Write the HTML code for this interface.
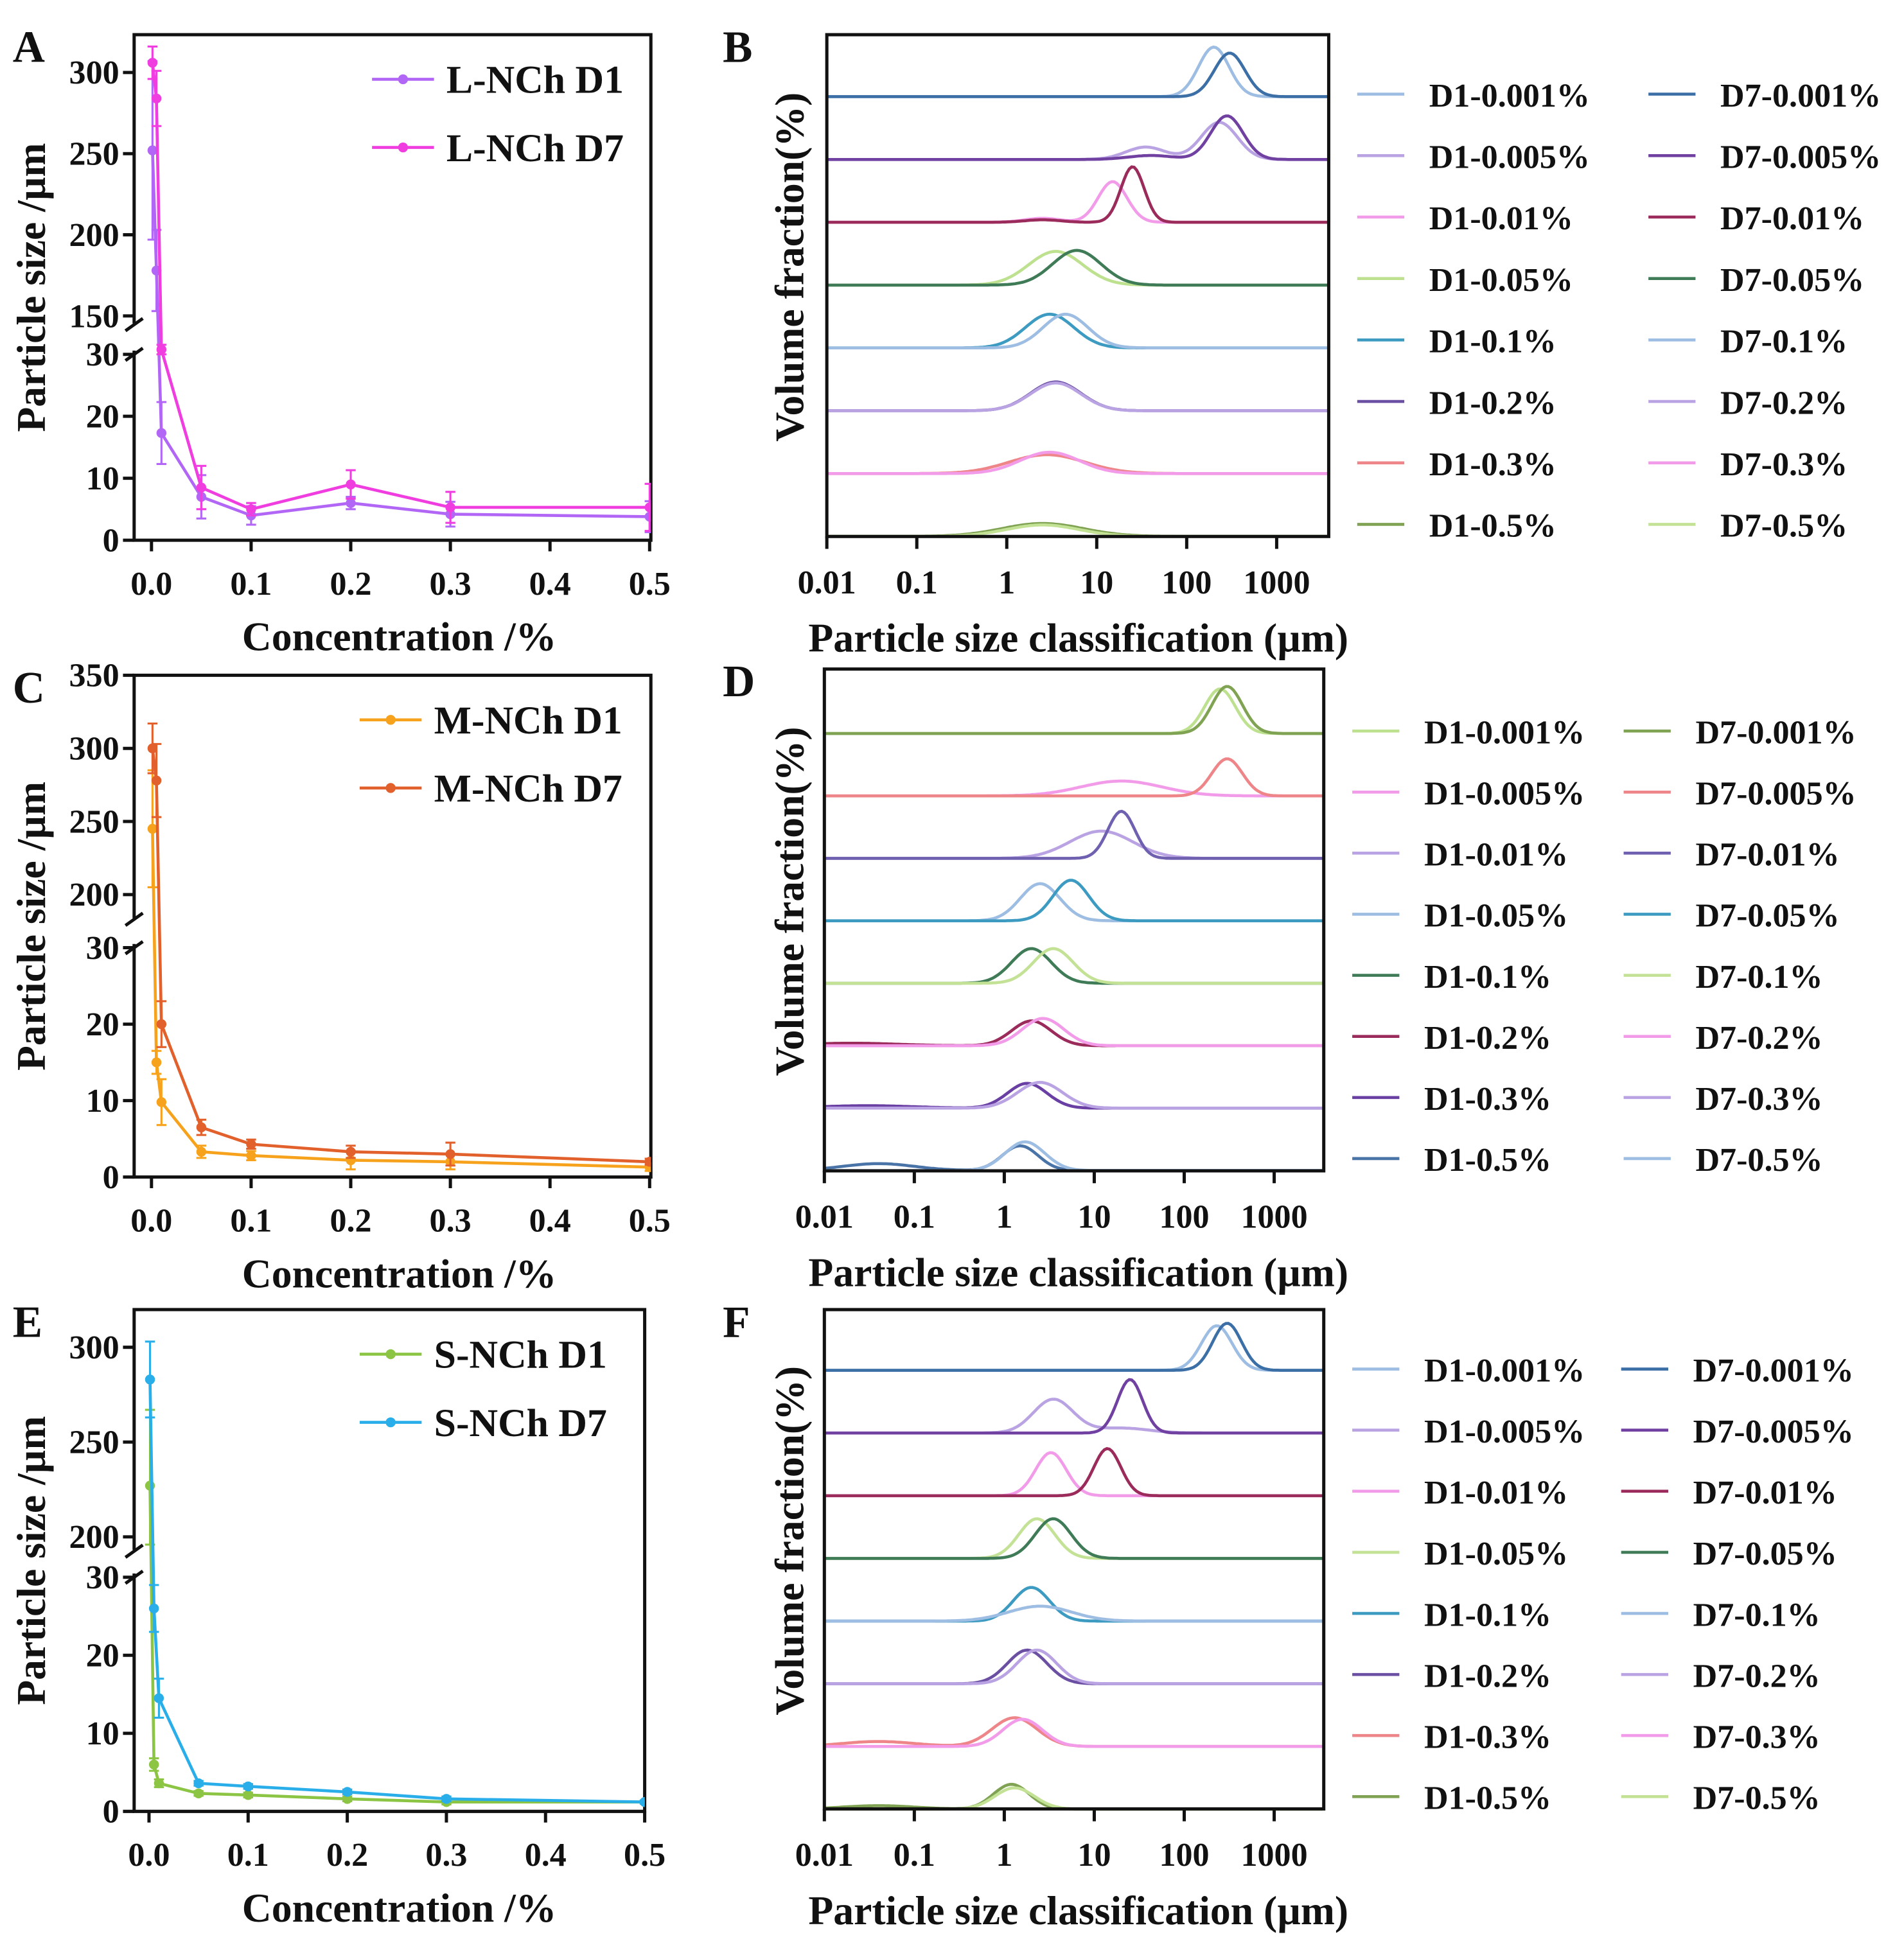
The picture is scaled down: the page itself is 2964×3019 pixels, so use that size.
<!DOCTYPE html>
<html><head><meta charset="utf-8">
<style>
html,body{margin:0;padding:0;background:#fff;}
svg{display:block;}
text{font-family:"Liberation Serif",serif;font-weight:bold;fill:#111;}
</style></head>
<body>
<svg id="fig" xmlns="http://www.w3.org/2000/svg" width="2964" height="3019" viewBox="0 0 1536 1565">
<rect x="0" y="0" width="1536" height="1565" fill="#fff"/>
</svg>
<script>
// ---------- Data: line panels (A, C, E) ----------
const concX = [0.001, 0.005, 0.01, 0.05, 0.1, 0.2, 0.3, 0.5];
const aD1 = [252, 178, 17.3, 7, 4, 6, 4.2, 3.8];
const aD7 = [306, 284, 45, 8.5, 5, 9, 5.3, 5.3];
const aD1err = [55, 25, 5, 3.5, 1.5, 1, 2, 2.5];
const aD7err = [10, 17, 15, 3.5, 1, 2.3, 2.5, 3.8];
const cD1 = [245, 15, 9.8, 3.3, 2.8, 2.2, 2.0, 1.3];
const cD7 = [300, 278, 20, 6.5, 4.3, 3.3, 3.0, 2.0];
const cD1err = [40, 1.5, 3, 0.8, 0.6, 1.2, 1, 0.5];
const cD7err = [17, 25, 3, 1, 0.6, 0.8, 1.5, 0.4];
const eD1 = [227, 6, 3.6, 2.3, 2.1, 1.6, 1.2, 1.2];
const eD7 = [283, 26, 14.5, 3.6, 3.2, 2.5, 1.6, 1.2];
const eD1err = [40, 0.8, 0.5, 0.3, 0.3, 0.3, 0.3, 0.2];
const eD7err = [20, 3, 2.5, 0.3, 0.3, 0.3, 0.3, 0.2];
const xTickLabels = ["0.0","0.1","0.2","0.3","0.4","0.5"];
const xTickValues = [0, 0.1, 0.2, 0.3, 0.4, 0.5];
const aUpperTicks = [150, 200, 250, 300];
const cUpperTicks = [200, 250, 300, 350];
const eUpperTicks = [200, 250, 300];
const lowerTicks = [0, 10, 20, 30];

// ---------- Data: distribution panels (B, D, F) ----------
const rowLabels = ["0.001%","0.005%","0.01%","0.05%","0.1%","0.2%","0.3%","0.5%"];
const sizeTicks = [0.01, 0.1, 1, 10, 100, 1000];
const sizeTickLabels = ["0.01","0.1","1","10","100","1000"];
// each curve: peaks as [center µm, height %, sigma (log10)]
const bD1 = [[[200,10,0.17]],[[35,2.5,0.22],[230,7.5,0.2]],[[15,8.2,0.16],[2.5,0.8,0.2]],[[3.5,6.8,0.3]],[[3,6.8,0.27]],[[3.5,5.8,0.28]],[[2.8,3.8,0.42]],[[2.5,2.6,0.45]]];
const bD7 = [[[300,8.8,0.17]],[[280,8.8,0.18],[40,0.8,0.25]],[[25,11.2,0.13],[2.5,0.5,0.2]],[[6,7,0.27]],[[4.5,6.8,0.25]],[[3.5,5.6,0.28]],[[3,4.3,0.33]],[[2.5,2.3,0.4]]];
const dD1 = [[[250,9,0.17]],[[20,3,0.45]],[[12,5.5,0.35]],[[2.5,7.5,0.22]],[[2,7,0.22]],[[2,5,0.22],[0.02,0.5,0.5]],[[1.8,5,0.22],[0.03,0.5,0.5]],[[1.5,5,0.2],[0.04,1.4,0.4]]];
const dD7 = [[[300,9.5,0.17]],[[300,7.5,0.17]],[[20,9.5,0.15]],[[5.5,8.2,0.2]],[[3.5,7,0.22]],[[2.7,5.5,0.23]],[[2.5,5.2,0.25]],[[1.7,5.8,0.22]]];
const fD1 = [[[230,9,0.17]],[[3.5,6.8,0.22],[20,1,0.3]],[[3.3,8.7,0.17]],[[2.3,8,0.2]],[[2,6.8,0.2]],[[1.8,6.8,0.22]],[[1.3,5.8,0.25],[0.04,1,0.4]],[[1.2,5,0.2],[0.04,0.7,0.4]]];
const fD7 = [[[300,9.5,0.16]],[[25,10.8,0.14]],[[14,9.5,0.15]],[[3.5,8,0.2]],[[2.5,3,0.35]],[[2.3,6.8,0.22]],[[1.6,5.5,0.22]],[[1.3,4.3,0.22]]];
const bD1Col = ["#9dbde3","#b9a3e3","#f29be9","#bde18f","#3d9bc2","#6b4fa3","#ee8589","#7fa353"];
const bD7Col = ["#3b6fa6","#7041a1","#9a2b5b","#3f7b57","#9dbde3","#b9a3e3","#f29be9","#c3e295"];
const dD1Col = ["#bde18f","#f29be9","#b9a3e3","#9dbde3","#3f7b57","#9a2b5b","#6a3fa3","#4a74a8"];
const dD7Col = ["#7fa353","#ee8589","#7060b0","#3d9bc2","#c3e295","#f29be9","#b9a3e3","#9dbde3"];
const fD1Col = ["#9dbde3","#b9a3e3","#f29be9","#c3e295","#3d9bc2","#6b4fa3","#ee8589","#7fa353"];
const fD7Col = ["#3b6fa6","#7041a1","#9a2b5b","#3f7b57","#9dbde3","#b9a3e3","#f29be9","#c3e295"];

const NS = "http://www.w3.org/2000/svg";
const svg = document.getElementById("fig");
function mk(tag, attrs, parent) {
  const e = document.createElementNS(NS, tag);
  for (const k in attrs) e.setAttribute(k, attrs[k]);
  (parent || svg).appendChild(e);
  return e;
}
function txt(s, x, y, size, anchor, parent, rot) {
  const t = mk("text", {x: x, y: y, "font-size": size, "text-anchor": anchor || "start"}, parent);
  if (rot) t.setAttribute("transform", "rotate(-90 " + x + " " + y + ")");
  t.textContent = s;
  return t;
}

// ---------- line panel ----------
function linePanel(p) {
  const g = mk("g", {});
  
  
  const X = v => p.x0 + (v / 0.5) * (p.x1 - p.x0);
  const Y = v => {
    if (v >= p.uMin) return p.uBot - (v - p.uMin) * p.uScale;
    if (v <= 30) return p.lBot - v * p.lScale;
    const yl = p.lBot - 30 * p.lScale, yu = p.uBot;
    return yl + (v - 30) / (p.uMin - 30) * (yu - yl);
  };
  const yTopLower = p.lBot - 30 * p.lScale - 3;
  const ax = mk("path", {d: `M${p.left},${p.uBot+6} L${p.left},${p.top} L${p.right},${p.top} L${p.right},${p.lBot} L${p.left},${p.lBot} L${p.left},${yTopLower}`, fill: "none", stroke: "#111", "stroke-width": 2.6}, g);
  
  
  mk("line", {x1: p.left-7, y1: p.uBot+12, x2: p.left+7, y2: p.uBot+2, stroke:"#111","stroke-width":2.6}, g);
  mk("line", {x1: p.left-7, y1: yTopLower+8, x2: p.left+7, y2: yTopLower-2, stroke:"#111","stroke-width":2.6}, g);
  const yt = p.uTicks.concat(lowerTicks);
  yt.forEach(v => {
    const y = Y(v);
    mk("line", {x1: p.left-9, y1: y, x2: p.left, y2: y, stroke:"#111","stroke-width":2.6}, g);
    const t = txt(String(v), p.left-12, y+9, 27, "end", g);
    
    
  });
  xTickValues.forEach((v, i) => {
    const x = X(v);
    mk("line", {x1: x, y1: p.lBot, x2: x, y2: p.lBot+9, stroke:"#111","stroke-width":2.6}, g);
    const t = txt(xTickLabels[i], x, p.lBot+44, 27, "middle", g);
    
    
  });
  const xt = txt("Concentration /%", 322, p.lBot+89, 33, "middle", g);
  
  
  const ytt = txt("Particle size /µm", 36, (p.top + p.lBot)/2, 33, "middle", g, true);
  
  
  const pl = txt(p.letter, 10, p.top+22, 36, "start", g);
  
  
  const clipId = "clip" + p.letter;
  const cp = mk("clipPath", {id: clipId}, g);
  mk("rect", {x: p.left, y: p.top, width: p.right-p.left, height: p.lBot-p.top}, cp);
  p.series.forEach((s, si) => {
    const sg = mk("g", {"clip-path": `url(#${clipId})`}, g);
    
    
    let d = "";
    concX.forEach((c, i) => { d += (i ? "L" : "M") + X(c).toFixed(1) + "," + Y(s.vals[i]).toFixed(1); });
    const path = mk("path", {d: d, fill: "none", stroke: s.color, "stroke-width": 2.4}, sg);
    
    
    concX.forEach((c, i) => {
      const x = X(c), v = s.vals[i], e = s.err[i];
      const y1 = Y(v + e), y2 = Y(Math.max(0, v - e));
      mk("line", {x1: x, y1: y1, x2: x, y2: y2, stroke: s.color, "stroke-width": 1.6}, sg);
      mk("line", {x1: x-4, y1: y1, x2: x+4, y2: y1, stroke: s.color, "stroke-width": 1.6}, sg);
      mk("line", {x1: x-4, y1: y2, x2: x+4, y2: y2, stroke: s.color, "stroke-width": 1.6}, sg);
      const dot = mk("circle", {cx: x, cy: Y(v), r: 4, fill: s.color}, sg);
      
      
    });
    const ly = p.top + 36 + si * 55;
    const lg = mk("g", {}, g);
    
    
    mk("line", {x1: p.legX, y1: ly, x2: p.legX+50, y2: ly, stroke: s.color, "stroke-width": 2.4}, lg);
    mk("circle", {cx: p.legX+25, cy: ly, r: 4, fill: s.color}, lg);
    txt(s.label, p.legX+60, ly+11, 32, "start", lg);
  });
}

linePanel({name:"panel-a", letter:"A", left:108, right:525, top:28, x0:122, x1:524,
  uMin:150, uBot:255, uScale:1.31, lBot:436, lScale:5, uTicks:aUpperTicks, legX:300,
  series:[{key:"l-nch-d1",label:"L-NCh D1",color:"#b266f5",vals:aD1,err:aD1err},
          {key:"l-nch-d7",label:"L-NCh D7",color:"#f03de0",vals:aD7,err:aD7err}]});
linePanel({name:"panel-c", letter:"C", left:108, right:525, top:545, x0:122, x1:524,
  uMin:189, uBot:735, uScale:1.18, lBot:950, lScale:6.17, uTicks:cUpperTicks, legX:290,
  series:[{key:"m-nch-d1",label:"M-NCh D1",color:"#f7a21c",vals:cD1,err:cD1err},
          {key:"m-nch-d7",label:"M-NCh D7",color:"#e2602c",vals:cD7,err:cD7err}]});
linePanel({name:"panel-e", letter:"E", left:108, right:520, top:1057, x0:120, x1:520,
  uMin:197, uBot:1245, uScale:1.53, lBot:1462, lScale:6.3, uTicks:eUpperTicks, legX:290,
  series:[{key:"s-nch-d1",label:"S-NCh D1",color:"#8cc444",vals:eD1,err:eD1err},
          {key:"s-nch-d7",label:"S-NCh D7",color:"#2aaeea",vals:eD7,err:eD7err}]});

// ---------- distribution panel ----------
function distPanel(p) {
  const g = mk("g", {});
  
  
  const X = um => p.left + (Math.log10(um) + 2) * p.dec;
  const hScale = 4;
  const clipId = "clip" + p.letter;
  const cp = mk("clipPath", {id: clipId}, g);
  mk("rect", {x: p.left, y: p.top, width: p.right-p.left, height: p.bottom-p.top+2}, cp);
  const cg = mk("g", {"clip-path": `url(#${clipId})`}, g);
  const drawCurve = (peaks, base, color, key) => {
    let d = "";
    for (let px = p.left; px <= p.right; px += 2) {
      const lx = (px - p.left) / p.dec - 2;
      let h = 0;
      peaks.forEach(pk => { const z = (lx - Math.log10(pk[0])) / pk[2]; h += pk[1] * Math.exp(-0.5 * z * z); });
      d += (px === p.left ? "M" : "L") + px + "," + (base - h * hScale).toFixed(1);
    }
    const path = mk("path", {d: d, fill: "none", stroke: color, "stroke-width": 2.4}, cg);
    
    
  };
  rowLabels.forEach((lab, i) => {
    const base = p.base0 + i * p.rowStep;
    drawCurve(p.d1[i], base, p.c1[i], "d1-" + lab);
    drawCurve(p.d7[i], base, p.c7[i], "d7-" + lab);
    const ly = p.legY0 + i * p.legStep;
    const l1 = mk("g", {}, g);
    
    
    mk("line", {x1: p.lx1, y1: ly, x2: p.lx1+38, y2: ly, stroke: p.c1[i], "stroke-width": 2.4}, l1);
    txt("D1-" + lab, p.lx1+58, ly+10, 27, "start", l1);
    const l2 = mk("g", {}, g);
    
    
    mk("line", {x1: p.lx2, y1: ly, x2: p.lx2+38, y2: ly, stroke: p.c7[i], "stroke-width": 2.4}, l2);
    txt("D7-" + lab, p.lx2+58, ly+10, 27, "start", l2);
  });
  const fr = mk("rect", {x: p.left, y: p.top, width: p.right-p.left, height: p.bottom-p.top, fill: "none", stroke: "#111", "stroke-width": 2.6}, g);
  
  
  sizeTicks.forEach((v, i) => {
    const x = X(v);
    mk("line", {x1: x, y1: p.bottom, x2: x, y2: p.bottom+10, stroke: "#111", "stroke-width": 2.6}, g);
    const t = txt(sizeTickLabels[i], x, p.bottom+46, 27, "middle", g);
    
    
  });
  const xt = txt("Particle size classification (µm)", 870, p.bottom+93, 33, "middle", g);
  
  
  const yt = txt("Volume fraction(%)", 648, (p.top+p.bottom)/2 - 15, 33, "middle", g, true);
  
  
  const pl = txt(p.letter, 583, p.top+22, 36, "start", g);
  
  
}

distPanel({name:"panel-b", letter:"B", left:667, right:1072, top:28, bottom:433, dec:72.6,
  base0:78, rowStep:50.7, d1:bD1, d7:bD7, c1:bD1Col, c7:bD7Col,
  legY0:76, legStep:49.6, lx1:1095, lx2:1330});
distPanel({name:"panel-d", letter:"D", left:665, right:1068, top:540, bottom:945, dec:72.6,
  base0:592, rowStep:50.4, d1:dD1, d7:dD7, c1:dD1Col, c7:dD7Col,
  legY0:590, legStep:49.3, lx1:1091, lx2:1310});
distPanel({name:"panel-f", letter:"F", left:665, right:1068, top:1057, bottom:1460, dec:72.6,
  base0:1106, rowStep:50.6, d1:fD1, d7:fD7, c1:fD1Col, c7:fD7Col,
  legY0:1105, legStep:49.3, lx1:1091, lx2:1308});
</script>
</body></html>
